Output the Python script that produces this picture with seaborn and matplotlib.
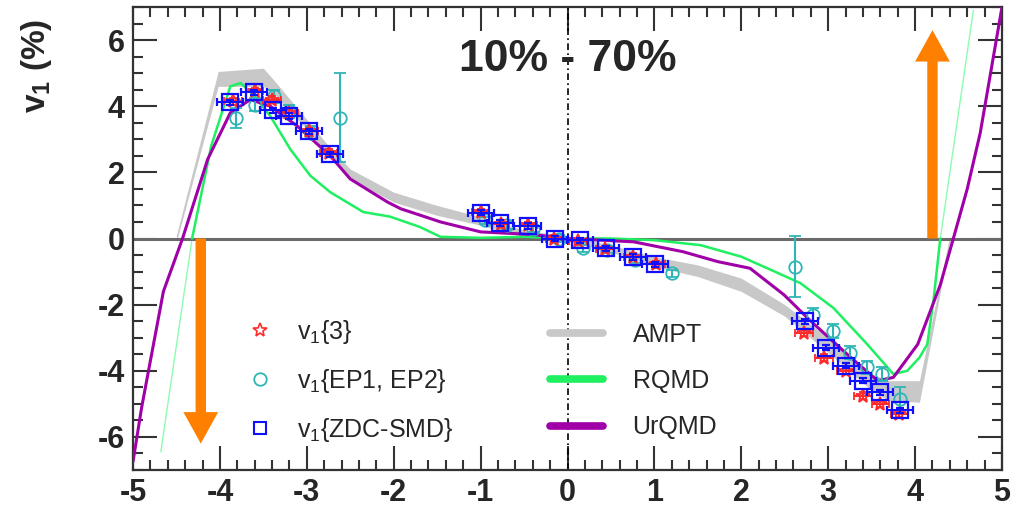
import numpy as np
import seaborn as sns
import matplotlib.pyplot as plt
from matplotlib.lines import Line2D
from matplotlib.ticker import MultipleLocator

# v1{3} points (red stars)
x_3 = [-3.85, -3.6, -3.4, -3.2, -2.97, -2.75, -1.0, -0.77, -0.45, -0.15, 0.12, 0.43, 0.75, 1.02,
       2.72, 2.95, 3.2, 3.4, 3.6, 3.82]
y_3 = [4.15, 4.45, 4.2, 3.8, 3.25, 2.6, 0.8, 0.45, 0.4, 0.0, -0.08, -0.32, -0.55, -0.78,
       -2.85, -3.6, -4.0, -4.75, -5.0, -5.3]

# v1{ZDC-SMD} points (blue squares)
x_zdc = [-3.88, -3.61, -3.39, -3.2, -2.98, -2.73, -1.0, -0.78, -0.46, -0.14, 0.14, 0.44, 0.75, 1.01,
         2.73, 2.97, 3.2, 3.4, 3.6, 3.83]
y_zdc = [4.12, 4.42, 3.88, 3.7, 3.24, 2.55, 0.78, 0.47, 0.38, 0.0, -0.05, -0.3, -0.56, -0.78,
         -2.5, -3.3, -3.85, -4.3, -4.65, -5.2]

# v1{EP1, EP2} points (cyan circles)
x_ep = [-3.82, -3.6, -3.38, -3.2, -2.95, -2.62, -0.95, -0.7, -0.4, -0.1, 0.18, 0.45, 0.78, 1.2,
        2.62, 2.82, 3.05, 3.25, 3.45, 3.62, 3.83]
y_ep = [3.65, 4.05, 4.3, 3.85, 3.2, 3.65, 0.55, 0.4, 0.3, 0.0, -0.3, -0.35, -0.65, -1.05,
        -0.85, -2.3, -2.8, -3.45, -3.9, -4.1, -4.85]
yerr_ep = [0.3, 0.2, 0.2, 0.2, 0.2, 1.35, 0.1, 0.1, 0.1, 0.1, 0.1, 0.1, 0.1, 0.1,
           0.92, 0.2, 0.2, 0.2, 0.2, 0.2, 0.35]

# AMPT band
ampt_x = [-4.5, -4.02, -3.5, -3.35, -3.0, -2.75, -2.5, -2.0, -1.5, -1.0, -0.5, 0.0, 0.5, 1.0,
          1.5, 2.0, 2.5, 3.0, 3.5, 3.7, 4.05, 4.4]
ampt_hi = [0.1, 5.05, 5.15, 4.7, 3.6, 2.8, 2.1, 1.4, 1.0, 0.65, 0.25, 0.08, -0.2, -0.55,
           -0.8, -1.2, -2.0, -3.0, -4.1, -4.3, -4.3, 0.1]
ampt_lo = [-0.1, 4.6, 4.6, 4.3, 3.3, 2.5, 1.8, 1.1, 0.7, 0.4, 0.05, -0.08, -0.4, -0.85,
           -1.15, -1.6, -2.35, -3.45, -4.6, -4.9, -4.95, -0.1]

# RQMD curve
rqmd_x = [-4.32, -4.1, -3.88, -3.76, -3.6, -3.42, -3.19, -2.96, -2.73, -2.35, -2.04, -1.7, -1.46,
          -1.0, -0.5, 0.0, 0.5, 1.0, 1.53, 2.0, 2.3, 2.68, 3.06, 3.45, 3.75, 3.91, 4.05, 4.14,
          4.21, 4.29]
rqmd_y = [0.0, 2.8, 4.6, 4.7, 4.3, 3.7, 2.7, 1.9, 1.4, 0.8, 0.66, 0.35, 0.05,
          0.02, 0.05, 0.0, 0.0, -0.05, -0.2, -0.55, -0.9, -1.35, -2.1, -3.2, -4.1, -4.0, -3.6, -3.2,
          -1.9, 0.0]
rqmd_left_x = [-4.68, -4.32]
rqmd_left_y = [-6.45, 0.0]
rqmd_right_x = [4.29, 4.67]
rqmd_right_y = [0.0, 6.9]

# UrQMD curve
urqmd_x = [-5.0, -4.9, -4.8, -4.65, -4.43, -4.14, -3.88, -3.65, -3.42, -3.11, -2.73, -2.5, -2.07,
           -1.92, -1.46, -1.0, -0.4, 0.0, 0.76, 1.33, 1.73, 2.1, 2.49, 2.8, 3.26, 3.57, 3.75, 4.03,
           4.29, 4.44, 4.6, 4.75, 5.0]
urqmd_y = [-6.75, -5.1, -3.7, -1.6, 0.0, 2.4, 3.8, 4.2, 4.0, 3.4, 2.5, 1.8, 1.1,
           0.9, 0.5, 0.2, 0.12, 0.0, -0.1, -0.4, -0.7, -0.9, -1.7, -2.5, -3.6, -4.3, -4.2, -3.2,
           -1.4, 0.0, 1.5, 3.2, 7.0]

sns.set_style("ticks")
plt.rcParams["font.family"] = ["Liberation Sans", "DejaVu Sans"]
plt.rcParams["mathtext.fontset"] = "custom"
plt.rcParams["mathtext.rm"] = "Liberation Sans"
plt.rcParams["mathtext.bf"] = "Liberation Sans:bold"
plt.rcParams["mathtext.default"] = "regular"
plt.rcParams["axes.unicode_minus"] = False

red = "#ff2a2a"
cyan = "#2fb5b5"
blue = "#1010ff"
gray = "#c8c8c8"
green = "#1ef060"
purple = "#a000a8"
orange = "#ff7f00"

fig = plt.figure(figsize=(10.19, 5.23), dpi=100)
ax = fig.add_axes([133 / 1019, 1 - 470 / 523, 869 / 1019, 463 / 523])

# models
ax.fill_between(ampt_x, ampt_lo, ampt_hi, color=gray, lw=0, zorder=1)
sns.lineplot(x=rqmd_left_x, y=rqmd_left_y, color="#8dfcb0", lw=1, sort=False, estimator=None, ax=ax, zorder=2)
sns.lineplot(x=rqmd_right_x, y=rqmd_right_y, color="#8dfcb0", lw=1, sort=False, estimator=None, ax=ax, zorder=2)
sns.lineplot(x=rqmd_x, y=rqmd_y, color=green, lw=1.8, sort=False, estimator=None, ax=ax, zorder=3)
sns.lineplot(x=urqmd_x, y=urqmd_y, color=purple, lw=2.2, sort=False, estimator=None, ax=ax, zorder=4)

# reference lines
ax.axhline(0, color="#6a6a6a", lw=2.2, zorder=2.5)
ax.axvline(0, color="black", lw=1.2, ls=(0, (4, 2, 1, 2)), zorder=2.5)

# arrows
ax.arrow(-4.22, 0, 0, -6.2, width=0.12, head_width=0.4, head_length=0.95,
         length_includes_head=True, color=orange, lw=0, zorder=5)
ax.arrow(4.2, 0, 0, 6.3, width=0.12, head_width=0.4, head_length=0.95,
         length_includes_head=True, color=orange, lw=0, zorder=5)

# data
ax.errorbar(x_ep, y_ep, yerr=yerr_ep, fmt="o", ms=9, mfc="none", mec=cyan, mew=1.3,
            ecolor=cyan, elinewidth=1.5, capsize=4, zorder=6)
ax.errorbar(x_3, y_3, xerr=0.1, yerr=0.1, fmt="*", ms=10, mfc="none", mec=red, mew=1.3,
            ecolor=red, elinewidth=1.5, capsize=3, zorder=7)
ax.errorbar(x_zdc, y_zdc, xerr=0.15, yerr=0.08, fmt="s", ms=11, mfc="none", mec=blue, mew=1.6,
            ecolor=blue, elinewidth=1.5, capsize=3, zorder=8)

ax.set_xlim(-5, 5)
ax.set_ylim(-7, 7)
ax.xaxis.set_major_locator(MultipleLocator(1))
ax.xaxis.set_minor_locator(MultipleLocator(0.2))
ax.yaxis.set_major_locator(MultipleLocator(2))
ax.yaxis.set_minor_locator(MultipleLocator(0.5))
ax.tick_params(which="both", direction="in", top=True, right=True, width=1.5, color="#333333")
ax.tick_params(which="major", length=17, labelsize=22, pad=6)
ax.tick_params(which="minor", length=7)
for lab in ax.get_xticklabels() + ax.get_yticklabels():
    lab.set_fontweight("bold")
for sp in ax.spines.values():
    sp.set_linewidth(1.6)
    sp.set_color("#333333")

ax.text(0, 5.4, "10% - 70%", ha="center", va="center", fontsize=32, fontweight="bold", zorder=9)
fig.text(37 / 1019, 1 - 66 / 523, r"$\mathbf{v_1}$ (%)", rotation=90, ha="center", va="center",
         fontsize=24, fontweight="bold")

h_left = [
    Line2D([], [], ls="none", marker="*", ms=10, mfc="none", mec=red, mew=1.2),
    Line2D([], [], ls="none", marker="o", ms=9, mfc="none", mec=cyan, mew=1.3),
    Line2D([], [], ls="none", marker="s", ms=9, mfc="none", mec=blue, mew=1.5),
]
leg1 = ax.legend(h_left, ["v$_1${3}", "v$_1${EP1, EP2}", "v$_1${ZDC-SMD}"],
                 loc="upper left", bbox_to_anchor=(0.125, 0.329), frameon=False, fontsize=18,
                 handlelength=1.5, handletextpad=0.7, labelspacing=0.85, borderpad=0, borderaxespad=0)
ax.add_artist(leg1)
h_right = [
    Line2D([], [], color=gray, lw=5.5),
    Line2D([], [], color=green, lw=5.5),
    Line2D([], [], color=purple, lw=5.5),
]
ax.legend(h_right, ["AMPT", "RQMD", "UrQMD"], loc="upper left", bbox_to_anchor=(0.48, 0.318),
          frameon=False, fontsize=18, handlelength=2.1, handletextpad=1.2, labelspacing=0.89,
          borderpad=0, borderaxespad=0)

fig.savefig("out.png", dpi=100)
